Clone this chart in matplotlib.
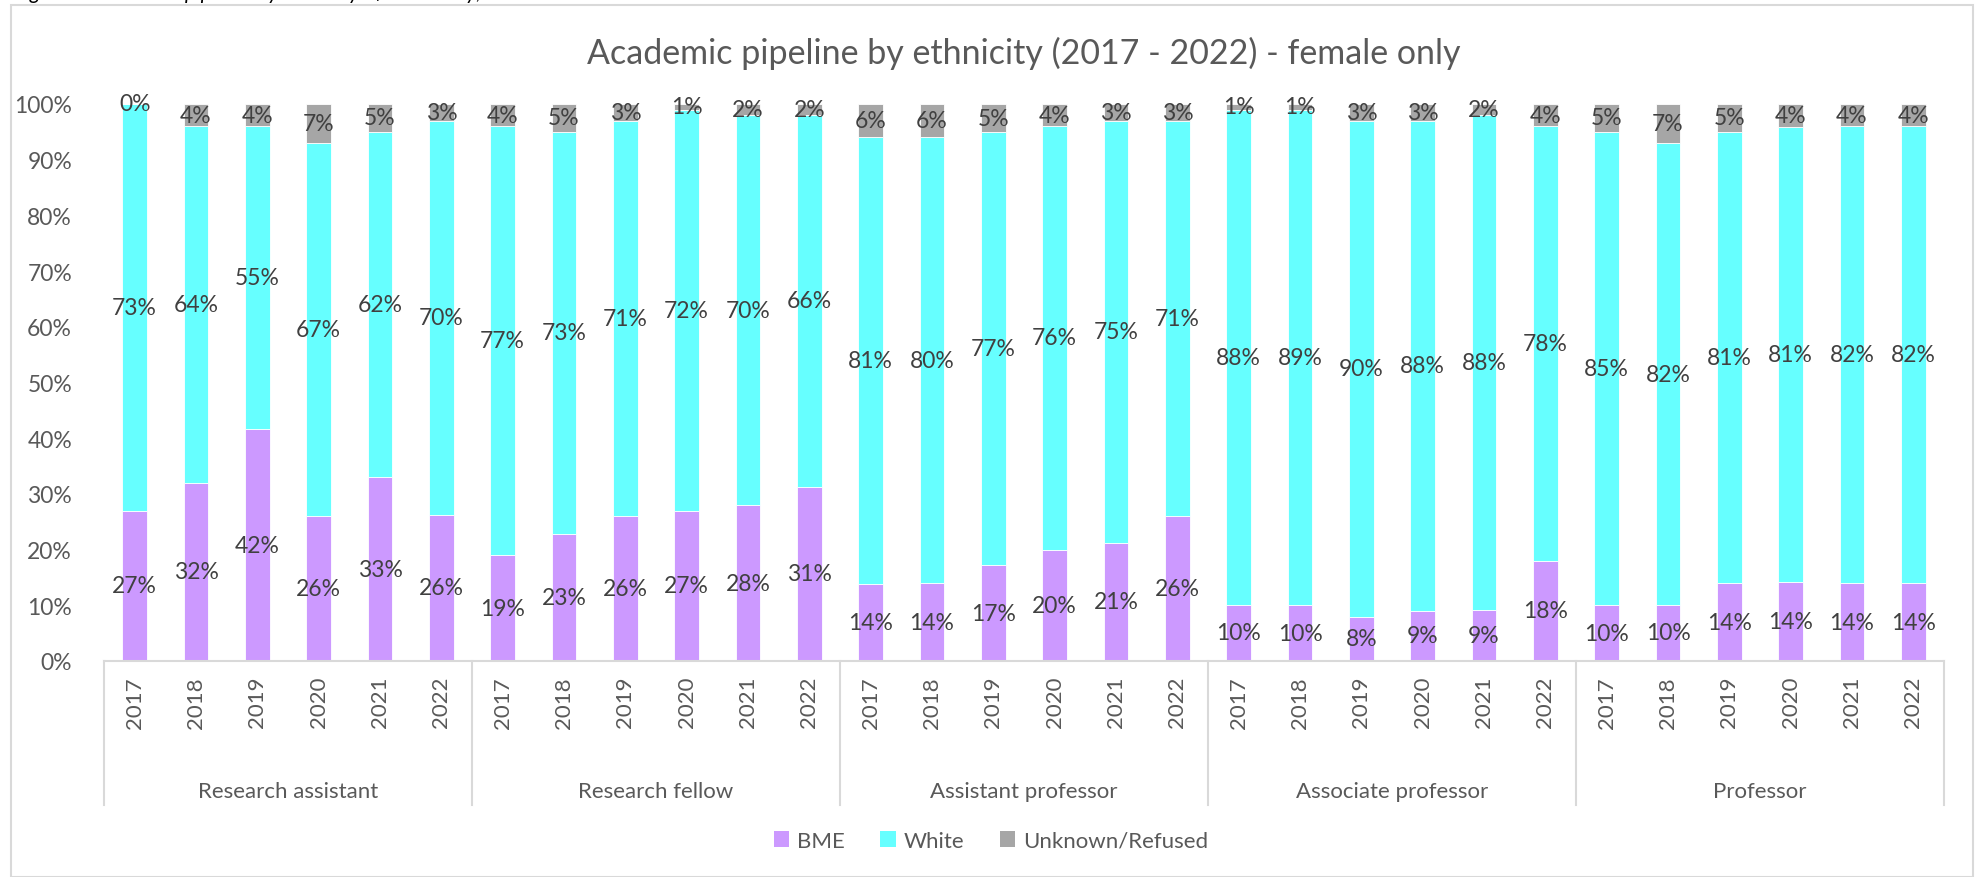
import matplotlib
matplotlib.use("Agg")
import matplotlib.pyplot as plt
import numpy as np
from matplotlib.lines import Line2D
from matplotlib.patches import Rectangle, Patch
from matplotlib.transforms import blended_transform_factory

plt.rcParams['font.family'] = ['Lato', 'DejaVu Sans']

groups = ["Research assistant", "Research fellow", "Assistant professor",
          "Associate professor", "Professor"]
years = ["2017", "2018", "2019", "2020", "2021", "2022"]

bme = [27, 32, 42, 26, 33, 26,
       19, 23, 26, 27, 28, 31,
       14, 14, 17, 20, 21, 26,
       10, 10, 8, 9, 9, 18,
       10, 10, 14, 14, 14, 14]
white = [73, 64, 55, 67, 62, 70,
         77, 73, 71, 72, 70, 66,
         81, 80, 77, 76, 75, 71,
         88, 89, 90, 88, 88, 78,
         85, 82, 81, 81, 82, 82]
unknown = [0, 4, 4, 7, 5, 3,
           4, 5, 3, 1, 2, 2,
           6, 6, 5, 4, 3, 3,
           1, 1, 3, 3, 2, 4,
           5, 7, 5, 4, 4, 4]

series_names = ["BME", "White", "Unknown/Refused"]
colors = ["#CC99FF", "#66FFFF", "#A6A6A6"]

W, H = 1982, 878
fig = plt.figure(figsize=(W / 100, H / 100), dpi=100)

# outer chart frame
fig.patches.append(Rectangle((11 / W, 0), (1973 - 11) / W, 1 - 6 / H,
                             transform=fig.transFigure, fill=False,
                             edgecolor="#D9D9D9", linewidth=1.5))
# caption above the chart (cut off by the top edge, as in the source)
fig.text(14 / W, 1 + 1 / H, "Figure 3: Academic pipeline by ethnicity - female only, 2017 - 2022",
         ha="left", va="baseline", fontsize=15, style="italic", color="#000000")

ax_left, ax_right, ax_top, ax_bot = 104, 1944, 105, 662
ax = fig.add_axes([ax_left / W, 1 - ax_bot / H, (ax_right - ax_left) / W, (ax_bot - ax_top) / H])

data = np.array([bme, white, unknown], dtype=float)
totals = data.sum(axis=0)
shares = data / totals
x = np.arange(len(bme))
bottom = np.zeros(len(bme))
for i in range(3):
    ax.bar(x, shares[i], 0.4, bottom=bottom, color=colors[i], label=series_names[i],
           edgecolor="white", linewidth=0.6)
    for j in range(len(x)):
        yc = bottom[j] + shares[i][j] / 2
        ax.text(x[j], yc, f"{int(data[i][j])}%", ha="center", va="center",
                fontsize=16.5, color="#404040")
    bottom += shares[i]

ax.set_xlim(-0.5, len(x) - 0.5)
ax.set_ylim(0, 1)
ax.set_yticks(np.arange(0, 1.01, 0.1))
ax.set_yticklabels([f"{int(round(v * 100))}%" for v in np.arange(0, 1.01, 0.1)])
ax.tick_params(axis="y", length=0, pad=23, labelsize=16.5, labelcolor="#595959")
ax.set_xticks([])
for s in ["top", "right", "left"]:
    ax.spines[s].set_visible(False)
ax.spines["bottom"].set_color("#D9D9D9")
ax.spines["bottom"].set_linewidth(1.5)

trans = blended_transform_factory(ax.transData, ax.transAxes)
ph = ax_bot - ax_top
for j in range(len(x)):
    ax.text(x[j], -(677 - ax_bot) / ph, years[j % 6], rotation=90, ha="center", va="top",
            fontsize=16, color="#595959", transform=trans)
for g, name in enumerate(groups):
    ax.text(g * 6 + 2.5, -(792 - ax_bot) / ph, name, ha="center", va="center",
            fontsize=16, color="#595959", transform=trans)
for g in range(len(groups) + 1):
    ax.add_line(Line2D([g * 6 - 0.5, g * 6 - 0.5], [0, -(806 - ax_bot) / ph],
                       transform=trans, color="#D9D9D9", linewidth=1.5, clip_on=False))

ax.set_title("Academic pipeline by ethnicity (2017 - 2022) - female only",
             fontsize=24.5, color="#595959", pad=0, y=1 + (ax_top - 53) / ph, va="center")

handles = [Patch(facecolor=c, edgecolor="none") for c in colors]
fig.legend(handles, series_names, loc="center", bbox_to_anchor=(0.5, 1 - 842 / H),
           ncol=3, frameon=False, fontsize=16, handlelength=0.7, handleheight=0.7,
           handletextpad=0.35, columnspacing=1.6, labelcolor="#595959")

fig.savefig("out.png", dpi=100)
